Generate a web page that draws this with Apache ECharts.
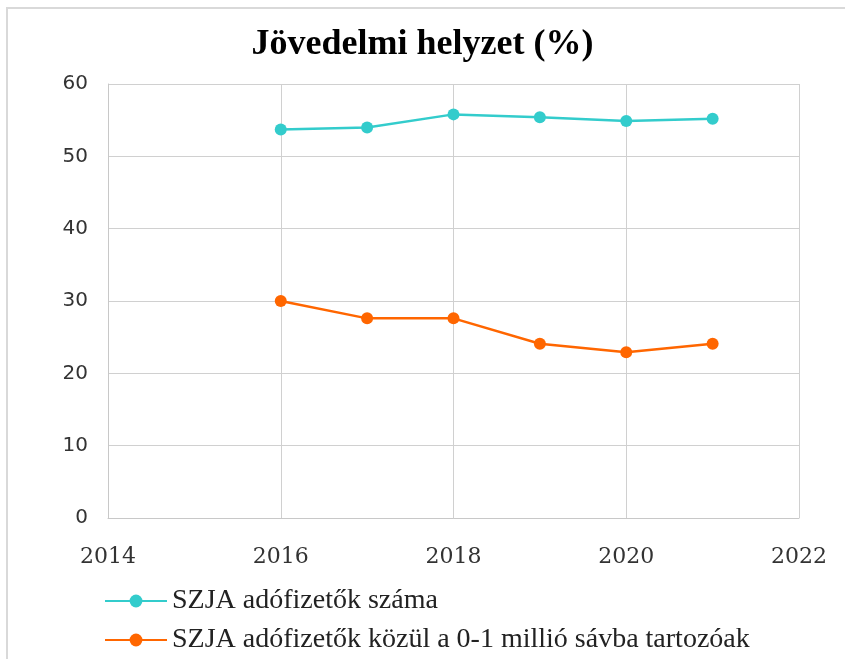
<!DOCTYPE html>
<html>
<head>
<meta charset="utf-8">
<script src="https://cdn.jsdelivr.net/npm/echarts@6/dist/echarts.min.js"></script>
<style>
  html, body { margin: 0; padding: 0; background: #fff; }
  #main { width: 845px; height: 659px; }
</style>
</head>
<body>
<div id="main"></div>
<script>
// adatok
var years = [2016, 2017, 2018, 2019, 2020, 2021];
var szjaFizetok = [53.7, 54.0, 55.8, 55.4, 54.9, 55.2];   // SZJA adófizetők száma
var alsoSav = [30.0, 27.6, 27.6, 24.1, 22.9, 24.1];        // 0-1 millió sáv
var seriesNames = ['SZJA adófizetők száma', 'SZJA adófizetők közül a 0-1 millió sávba tartozóak'];
var colors = ['#33CCCC', '#FF6600'];

function pairs(vals) {
    return years.map(function (y, i) { return [y, vals[i]]; });
}

var chart = echarts.init(document.getElementById('main'));

var option = {
    backgroundColor: '#ffffff',
    animation: false,
    color: colors,
    title: {
        text: 'Jövedelmi helyzet (%)',
        left: 'center',
        top: 22,
        textStyle: {
            fontFamily: 'Liberation Serif',
            fontWeight: 'bold',
            fontSize: 36,
            color: '#000'
        }
    },
    graphic: [{
        type: 'rect',
        shape: { x: 7, y: 8, width: 900, height: 700 },
        style: { fill: 'none', stroke: '#d9d9d9', lineWidth: 2 },
        silent: true
    }],
    legend: {
        orient: 'vertical',
        left: 99,
        top: 582,
        itemWidth: 62,
        itemHeight: 16,
        itemGap: 11,
        textStyle: {
            fontFamily: 'Liberation Serif',
            fontSize: 28,
            color: '#222'
        },
        data: seriesNames
    },
    grid: {
        left: 108,
        top: 84,
        right: 46,
        bottom: 141
    },
    xAxis: {
        type: 'value',
        min: 2014,
        max: 2022,
        interval: 2,
        axisLine: { show: true, lineStyle: { color: '#c8c8c8' } },
        axisTick: { show: false },
        splitLine: { show: true, lineStyle: { color: '#d0d0d0' } },
        axisLabel: {
            margin: 28,
            fontFamily: 'DejaVu Serif',
            fontSize: 22,
            color: '#333',
            formatter: function (v) { return String(v); }
        }
    },
    yAxis: {
        type: 'value',
        min: 0,
        max: 60,
        interval: 10,
        axisLine: { show: true, lineStyle: { color: '#c8c8c8' } },
        axisTick: { show: false },
        splitLine: { show: true, lineStyle: { color: '#d0d0d0' } },
        axisLabel: {
            margin: 20,
            fontFamily: 'DejaVu Sans',
            fontSize: 20,
            color: '#333'
        }
    },
    series: [{
        name: seriesNames[0],
        type: 'line',
        data: pairs(szjaFizetok),
        symbol: 'circle',
        symbolSize: 12,
        lineStyle: { width: 2.5 }
    }, {
        name: seriesNames[1],
        type: 'line',
        data: pairs(alsoSav),
        symbol: 'circle',
        symbolSize: 12,
        lineStyle: { width: 2.5 }
    }]
};

chart.setOption(option);
</script>
</body>
</html>
